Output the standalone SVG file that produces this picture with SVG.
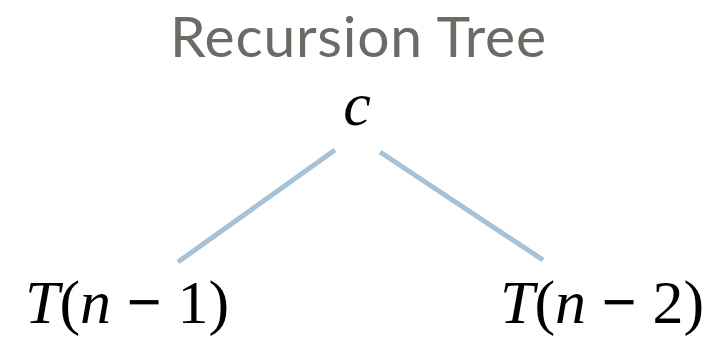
<svg xmlns="http://www.w3.org/2000/svg" width="722" height="337" viewBox="0 0 722 337">
<style>
.title{font-family:Lato,"Open Sans",sans-serif;font-size:57px;fill:#6b6b66;}
.edge{stroke:#a4c2d8;stroke-width:5;fill:none;}
.m{font-family:'Liberation Serif','Times New Roman',serif;font-size:62px;fill:#000;}
.i{font-style:italic;}
</style>
<rect width="722" height="337" fill="#fff"/>
<text class="title" x="358" y="57" text-anchor="middle" textLength="376" lengthAdjust="spacing">Recursion Tree</text>
<g id="connectors">
<line class="edge" x1="335" y1="150" x2="178" y2="262"/>
<line class="edge" x1="380" y1="152" x2="543" y2="260"/>
</g>
<g id="node-root">
<text class="m i" x="357" y="125" text-anchor="middle">c</text>
</g>
<g id="node-left">
<text class="m" x="127" y="323" text-anchor="middle"><tspan class="i">T</tspan>(<tspan class="i">n</tspan> <tspan font-weight="bold">−</tspan> 1)</text>
</g>
<g id="node-right">
<text class="m" x="602" y="323" text-anchor="middle"><tspan class="i">T</tspan>(<tspan class="i">n</tspan> <tspan font-weight="bold">−</tspan> 2)</text>
</g>
</svg>
